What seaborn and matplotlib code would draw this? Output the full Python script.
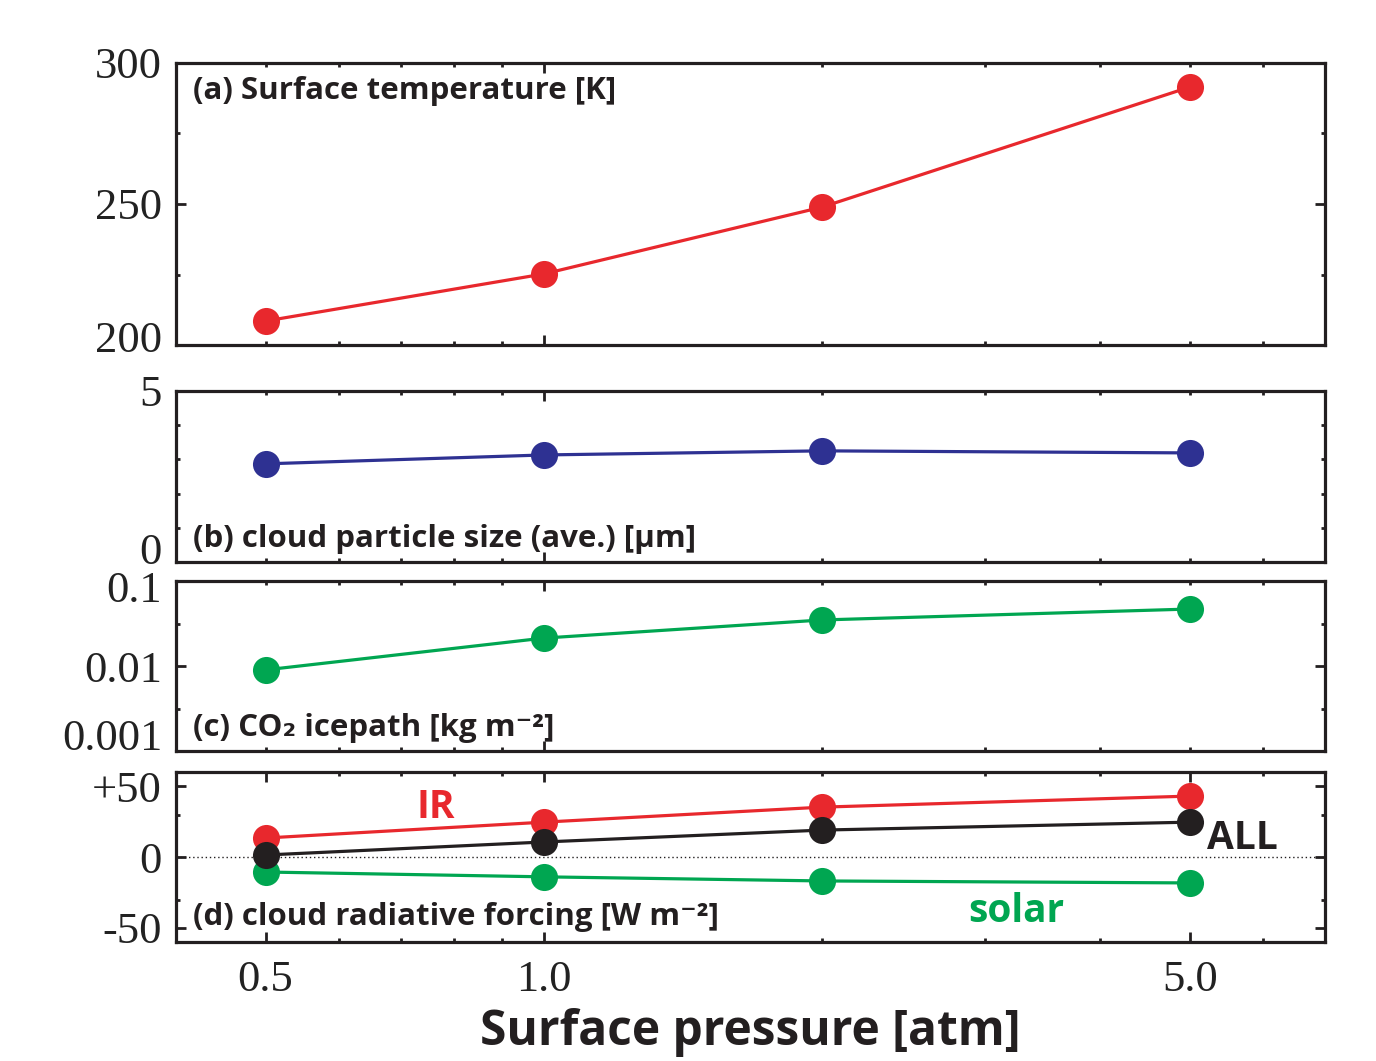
import numpy as np
import pandas as pd
import matplotlib
matplotlib.use("Agg")
import matplotlib.pyplot as plt
import matplotlib.ticker as mticker
import matplotlib.transforms as mtransforms
import seaborn as sns

# ---------------- data ----------------
pressure = [0.5, 1.0, 2.0, 5.0]
surface_temp = [208.5, 225.2, 248.9, 291.5]
particle_size = [2.87, 3.13, 3.25, 3.19]
co2_icepath = [0.0090, 0.0213, 0.0348, 0.0468]
crf_ir = [13.4, 24.6, 35.2, 43.0]
crf_all = [1.4, 10.6, 19.0, 24.6]
crf_solar = [-10.6, -14.0, -16.9, -18.3]

xtick_vals = [0.5, 1.0, 5.0]
xtick_labels = ["0.5", "1.0", "5.0"]

panel_titles = [
    "(a) Surface temperature [K]",
    "(b) cloud particle size (ave.) [\u03bcm]",
    "(c) CO\u2082 icepath [kg m\u207b\u00b2]",
    "(d) cloud radiative forcing [W m\u207b\u00b2]",
]

RED = "#e8282d"
BLUE = "#2e3192"
GREEN = "#00a651"
BLACK = "#231f20"

sns.set_style("ticks")
plt.rcParams["font.family"] = ["Liberation Serif", "DejaVu Serif"]
plt.rcParams["axes.edgecolor"] = BLACK
plt.rcParams["axes.linewidth"] = 2.3

SANS = ["Open Sans", "DejaVu Sans"]

fig = plt.figure(figsize=(13.76, 10.61), dpi=100)
L, W = 176 / 1376, 1149 / 1376
H = 1061
def rect(top, bot):
    return [L, 1 - bot / H, W, (bot - top) / H]

ax_a = fig.add_axes(rect(63, 345))
ax_b = fig.add_axes(rect(391, 562))
ax_c = fig.add_axes(rect(581, 751))
ax_d = fig.add_axes(rect(772, 942))
axes = [ax_a, ax_b, ax_c, ax_d]

line_kw = dict(marker="o", markersize=19.5, markeredgewidth=0, linewidth=2.3)

df = pd.DataFrame({"p": pressure, "T": surface_temp, "r": particle_size, "c": co2_icepath,
                   "ir": crf_ir, "all": crf_all, "solar": crf_solar})

for ax in axes:
    ax.set_xscale("log")

sns.lineplot(data=df, x="p", y="T", ax=ax_a, color=RED, **line_kw)
sns.lineplot(data=df, x="p", y="r", ax=ax_b, color=BLUE, **line_kw)
ax_c.set_yscale("log")
sns.lineplot(data=df, x="p", y="c", ax=ax_c, color=GREEN, **line_kw)
ax_d.axhline(0, color=BLACK, lw=1.0, ls=(0, (1, 2)), zorder=1)
sns.lineplot(data=df, x="p", y="ir", ax=ax_d, color=RED, **line_kw)
sns.lineplot(data=df, x="p", y="solar", ax=ax_d, color=GREEN, **line_kw)
sns.lineplot(data=df, x="p", y="all", ax=ax_d, color=BLACK, **line_kw)

# y axes
ax_a.set_ylim(200, 300)
ax_a.yaxis.set_major_locator(mticker.FixedLocator([200, 250, 300]))
ax_a.yaxis.set_minor_locator(mticker.FixedLocator([225, 275]))
ax_a.set_yticklabels(["200", "250", "300"])

ax_b.set_ylim(0, 5)
ax_b.yaxis.set_major_locator(mticker.FixedLocator([0, 5]))
ax_b.yaxis.set_minor_locator(mticker.FixedLocator([1, 2, 3, 4]))
ax_b.set_yticklabels(["0", "5"])

ax_c.set_ylim(0.001, 0.1)
ax_c.yaxis.set_major_locator(mticker.FixedLocator([0.001, 0.01, 0.1]))
ax_c.yaxis.set_minor_locator(mticker.FixedLocator([10 ** -2.5, 10 ** -1.5]))
ax_c.set_yticklabels(["0.001", "0.01", "0.1"])

ax_d.set_ylim(-60, 60)
ax_d.yaxis.set_major_locator(mticker.FixedLocator([-50, 0, 50]))
ax_d.yaxis.set_minor_locator(mticker.FixedLocator([-30, 30]))
ax_d.set_yticklabels(["-50", "0", "+50"])

for ax in axes:
    ax.set_xlim(0.4, 7.0)
    ax.xaxis.set_major_locator(mticker.FixedLocator(xtick_vals))
    ax.xaxis.set_minor_locator(mticker.FixedLocator([0.6, 0.7, 0.8, 0.9, 2, 3, 4, 6]))
    ax.xaxis.set_minor_formatter(mticker.NullFormatter())
    ax.set_xlabel("")
    ax.set_ylabel("")
    ax.tick_params(which="both", direction="in", top=True, right=True,
                   color=BLACK, width=2.0, labelsize=32, labelcolor="#222222")
    ax.tick_params(which="major", length=7, pad=10)
    ax.tick_params(which="minor", length=3)
    for s in ax.spines.values():
        s.set_visible(True)
        s.set_linewidth(2.3)
    for tick, v in zip(ax.xaxis.get_major_ticks(), xtick_vals):
        if v != 1.0:
            tick.tick1line.set_markersize(3)
            tick.tick2line.set_markersize(3)
    if ax is not ax_d:
        ax.tick_params(axis="x", labelbottom=False)

ax_d.set_xticklabels(xtick_labels)
ax_d.tick_params(axis="x", pad=13)
ax_d.set_xlabel("Surface pressure [atm]", family=SANS, fontweight="bold",
                fontsize=34.5, labelpad=6, color=BLACK)

def shift_label(ax, idx, dy_px):
    lab = ax.yaxis.get_majorticklabels()[idx]
    lab.set_transform(lab.get_transform() + mtransforms.ScaledTranslation(0, dy_px / 100, fig.dpi_scale_trans))

shift_label(ax_a, 0, 9)
shift_label(ax_b, 0, 13)
shift_label(ax_c, 0, 16)
shift_label(ax_c, 2, -6)

title_y = [0.902, 0.135, 0.135, 0.147]
for ax, t, y in zip(axes, panel_titles, title_y):
    ax.text(0.015, y, t, transform=ax.transAxes, family=SANS, fontweight="bold",
            fontsize=22.5, color=BLACK, ha="left", va="center")

ax_d.text(0.226, 0.79, "IR", transform=ax_d.transAxes, family=SANS, fontweight="bold",
          fontsize=28, color=RED, ha="center", va="center")
ax_d.text(0.928, 0.61, "ALL", transform=ax_d.transAxes, family=SANS, fontweight="bold",
          fontsize=28, color=BLACK, ha="center", va="center")
ax_d.text(0.731, 0.18, "solar", transform=ax_d.transAxes, family=SANS, fontweight="bold",
          fontsize=28, color=GREEN, ha="center", va="center")

for ax in axes:
    leg = ax.get_legend()
    if leg:
        leg.remove()

fig.savefig("out.png", dpi=100)
